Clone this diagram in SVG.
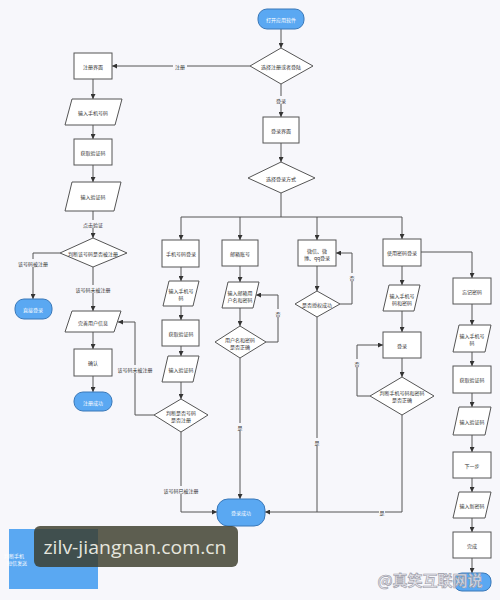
<svg xmlns="http://www.w3.org/2000/svg" width="500" height="600" viewBox="0 0 500 600">
<defs>
<marker id="ah" markerWidth="5" markerHeight="5" refX="5" refY="2.5" orient="auto" markerUnits="userSpaceOnUse">
<path d="M0,0 L5,2.5 L0,5 z" fill="#333"/>
</marker>
<style>
.box{fill:#ffffff;stroke:#555;stroke-width:1}
.term{fill:#5aa8f2;stroke:#3a78b8;stroke-width:1}
.t{font-family:"Noto Sans CJK SC","Noto Sans",sans-serif;font-size:5px;fill:#333;text-anchor:middle;dominant-baseline:central}
.tw{font-family:"Noto Sans CJK SC","Noto Sans",sans-serif;font-size:5px;fill:#ffffff;text-anchor:middle;dominant-baseline:central}
.ln{fill:none;stroke:#555;stroke-width:1}
.a{marker-end:url(#ah)}
.lb{fill:#f7f7fb}
</style>
</defs>
<rect width="500" height="600" fill="#f7f7fb"/>

<g id="connectors">
<path class="ln a" d="M281,29 V48"/>
<path class="ln a" d="M250,66 H112"/>
<path class="ln a" d="M281,84 V117"/>
<path class="ln a" d="M281,143 V162"/>
<path class="ln" d="M281,193 V217 M181,217 H402"/>
<path class="ln a" d="M181,217 V240"/>
<path class="ln a" d="M240,217 V240"/>
<path class="ln a" d="M317,217 V240"/>
<path class="ln a" d="M402,217 V239"/>
<path class="ln a" d="M421,252 H472 V278"/>
<path class="ln a" d="M93,79 V99"/>
<path class="ln a" d="M93,125 V139"/>
<path class="ln a" d="M93,165 V182"/>
<path class="ln a" d="M93,211 V238"/>
<path class="ln a" d="M60,253 H33 V299"/>
<path class="ln a" d="M93,267 V311"/>
<path class="ln a" d="M93,332 V349"/>
<path class="ln a" d="M93,376 V392"/>
<path class="ln a" d="M181,267 V281"/>
<path class="ln a" d="M181,306 V320"/>
<path class="ln a" d="M181,346 V356"/>
<path class="ln a" d="M181,382 V399"/>
<path class="ln a" d="M154,415 H135 V322 H118"/>
<path class="ln a" d="M181,432 V512 H217"/>
<path class="ln a" d="M240,266 V282"/>
<path class="ln a" d="M240,308 V326"/>
<path class="ln a" d="M266,342 H278 V295 H256"/>
<path class="ln a" d="M240,358 V499"/>
<path class="ln a" d="M317,266 V291"/>
<path class="ln a" d="M340,304 H352 V253 H336"/>
<path class="ln" d="M317,317 V512"/>
<path class="ln a" d="M402,266 V285"/>
<path class="ln a" d="M402,311 V332"/>
<path class="ln a" d="M402,358 V377"/>
<path class="ln a" d="M370,396 H357 V345 H383"/>
<path class="ln a" d="M402,415 V512 H265"/>
<path class="ln a" d="M472,304 V325"/>
<path class="ln a" d="M472,352 V366"/>
<path class="ln a" d="M472,393 V407"/>
<path class="ln a" d="M472,435 V452"/>
<path class="ln a" d="M472,478 V492"/>
<path class="ln a" d="M472,518 V532"/>
<path class="ln a" d="M472,558 V573"/>
<g id="labels">
<rect class="lb" x="173" y="62" width="14" height="8"/><text class="t" x="180" y="66">注册</text>
<rect class="lb" x="274" y="96" width="14" height="8"/><text class="t" x="281" y="100">登录</text>
<rect class="lb" x="83" y="220" width="20" height="8"/><text class="t" x="93" y="224">点击验证</text>
<rect class="lb" x="18" y="259" width="30" height="8"/><text class="t" x="33" y="263">该号码被注册</text>
<rect class="lb" x="76" y="285" width="34" height="8"/><text class="t" x="93" y="289">该号码未被注册</text>
<rect class="lb" x="118" y="365" width="34" height="8"/><text class="t" x="135" y="369">该号码未被注册</text>
<rect class="lb" x="164" y="486" width="34" height="8"/><text class="t" x="181" y="490">该号码已被注册</text>
<rect class="lb" x="275" y="309" width="6" height="8"/><text class="t" x="278" y="313">否</text>
<rect class="lb" x="237" y="423" width="6" height="8"/><text class="t" x="240" y="427">是</text>
<rect class="lb" x="349" y="273" width="6" height="8"/><text class="t" x="352" y="277">否</text>
<rect class="lb" x="314" y="438" width="6" height="8"/><text class="t" x="317" y="442">是</text>
<rect class="lb" x="354" y="359" width="6" height="8"/><text class="t" x="357" y="363">否</text>
<rect class="lb" x="379" y="508" width="6" height="8"/><text class="t" x="382" y="512">是</text>
</g>
</g>

<g id="start"><rect class="term" x="258" y="9" width="46" height="20" rx="9"/><text class="tw" x="281" y="19">打开应用软件</text></g>
<g id="choose"><polygon class="box" points="281,48 313,66 281,84 250,66"/><text class="t" x="281" y="66">选择注册或者登陆</text></g>
<g id="register"><rect class="box" x="74" y="53" width="38" height="26"/><text class="t" x="93" y="66">注册界面</text></g>
<g id="loginPage"><rect class="box" x="263" y="117" width="36" height="26"/><text class="t" x="281" y="130">登录界面</text></g>
<g id="loginWay"><polygon class="box" points="281,162 315,178 281,193 248,178"/><text class="t" x="281" y="178">选择登录方式</text></g>

<g id="r1"><polygon class="box" points="72,99 122,99 115,125 65,125"/><text class="t" x="93" y="112">输入手机号码</text></g>
<g id="r2"><rect class="box" x="74" y="139" width="38" height="26"/><text class="t" x="93" y="152">获取验证码</text></g>
<g id="r3"><polygon class="box" points="72,182 121,182 114,211 65,211"/><text class="t" x="93" y="196">输入验证码</text></g>
<g id="r4"><polygon class="box" points="93,238 127,253 93,267 60,253"/><text class="t" x="93" y="253">判断该号码是否被注册</text></g>
<g id="r5"><rect class="term" x="15" y="299" width="37" height="20" rx="9"/><text class="tw" x="33" y="309">直接登录</text></g>
<g id="r6"><polygon class="box" points="72,311 121,311 114,332 65,332"/><text class="t" x="93" y="322">完善用户信息</text></g>
<g id="r7"><rect class="box" x="74" y="349" width="38" height="27"/><text class="t" x="93" y="362">确认</text></g>
<g id="r8"><rect class="term" x="74" y="392" width="38" height="19" rx="9"/><text class="tw" x="93" y="402">注册成功</text></g>

<g id="p0"><rect class="box" x="162" y="240" width="37" height="27"/><text class="t" x="181" y="253">手机号码登录</text></g>
<g id="p1"><polygon class="box" points="169,281 199,281 193,306 163,306"/><text class="t" x="181" y="290">输入手机号</text><text class="t" x="181" y="297">码</text></g>
<g id="p2"><rect class="box" x="162" y="320" width="37" height="26"/><text class="t" x="181" y="333">获取验证码</text></g>
<g id="p3"><polygon class="box" points="168,356 199,356 193,382 162,382"/><text class="t" x="181" y="369">输入验证码</text></g>
<g id="p4"><polygon class="box" points="181,399 208,415 181,432 154,415"/><text class="t" x="181" y="412">判断是否号码</text><text class="t" x="181" y="419">是否注册</text></g>
<g id="success"><rect class="term" x="217" y="499" width="48" height="27" rx="11"/><text class="tw" x="241" y="512">登录成功</text></g>

<g id="m0"><rect class="box" x="222" y="240" width="36" height="26"/><text class="t" x="240" y="253">邮箱账号</text></g>
<g id="m1"><polygon class="box" points="228,282 259,282 253,308 222,308"/><text class="t" x="240" y="292">输入邮箱用</text><text class="t" x="240" y="299">户名和密码</text></g>
<g id="m2"><polygon class="box" points="240,326 266,342 240,358 215,342"/><text class="t" x="240" y="339">用户名和密码</text><text class="t" x="240" y="346">是否正确</text></g>

<g id="w0"><rect class="box" x="298" y="240" width="38" height="26"/><text class="t" x="317" y="250">微信、微</text><text class="t" x="317" y="257">博、qq登录</text></g>
<g id="w1"><polygon class="box" points="317,291 340,304 317,317 295,304"/><text class="t" x="317" y="304">是否授权成功</text></g>

<g id="k0"><rect class="box" x="383" y="239" width="38" height="27"/><text class="t" x="402" y="252">使用密码登录</text></g>
<g id="k1"><polygon class="box" points="389,285 420,285 414,311 383,311"/><text class="t" x="402" y="295">输入手机号</text><text class="t" x="402" y="302">码和密码</text></g>
<g id="k2"><rect class="box" x="383" y="332" width="38" height="26"/><text class="t" x="402" y="345">登录</text></g>
<g id="k3"><polygon class="box" points="402,377 434,396 402,415 370,396"/><text class="t" x="402" y="392">判断手机号码和密码</text><text class="t" x="402" y="399">是否正确</text></g>

<g id="f0"><rect class="box" x="453" y="278" width="38" height="26"/><text class="t" x="472" y="291">忘记密码</text></g>
<g id="f1"><polygon class="box" points="459,325 491,325 485,352 453,352"/><text class="t" x="472" y="335">输入手机号</text><text class="t" x="472" y="342">码</text></g>
<g id="f2"><rect class="box" x="453" y="366" width="38" height="27"/><text class="t" x="472" y="379">获取验证码</text></g>
<g id="f3"><polygon class="box" points="459,407 491,407 485,435 453,435"/><text class="t" x="472" y="421">输入验证码</text></g>
<g id="f4"><rect class="box" x="453" y="452" width="38" height="26"/><text class="t" x="472" y="465">下一步</text></g>
<g id="f5"><polygon class="box" points="459,492 491,492 485,518 453,518"/><text class="t" x="472" y="505">输入新密码</text></g>
<g id="f6"><rect class="box" x="453" y="532" width="38" height="26"/><text class="t" x="472" y="545">完成</text></g>
<g id="f7"><rect class="term" x="454" y="573" width="37" height="18" rx="8"/></g>

<g id="note"><rect x="9" y="529" width="89" height="60" fill="#5aa8f2"/><text class="tw" x="14" y="555" text-anchor="start">判断手机</text><text class="tw" x="17" y="562" text-anchor="start">短信发送</text></g>

<g id="watermark1"><rect x="34" y="526" width="204" height="41" rx="6" fill="#3a3c2a" fill-opacity="0.82"/><text x="135" y="554" font-family="'Open Sans','Noto Sans',sans-serif" font-size="19" fill="#e6e6de" text-anchor="middle" textLength="183" lengthAdjust="spacingAndGlyphs">zilv-jiangnan.com.cn</text></g>
<g id="watermark2"><text x="430" y="586" font-family="'Noto Sans CJK SC',sans-serif" font-size="15" font-weight="bold" fill="#e4e4ea" stroke="#9a9aa6" stroke-width="0.6" text-anchor="middle" fill-opacity="0.9">@真笑互联网说</text></g>
</svg>
